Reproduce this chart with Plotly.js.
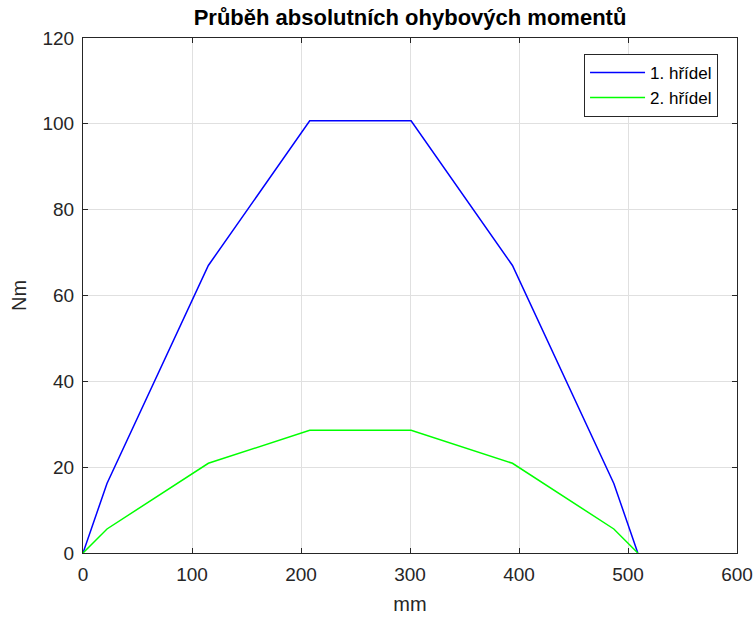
<!DOCTYPE html>
<html>
<head>
<meta charset="utf-8">
<script src="https://cdn.plot.ly/plotly-3.0.1.min.js"></script>
<style>html,body{margin:0;padding:0;background:#fff;}#chart{width:754px;height:619px;}</style>
</head>
<body>
<div id="chart"></div>
<script>
const xPos = [0, 22, 115, 208, 301, 394, 487, 509];
const shaft1 = [0, 16.2, 67.0, 100.7, 100.7, 67.0, 16.2, 0];
const shaft2 = [0, 5.6, 20.9, 28.6, 28.6, 20.9, 5.6, 0];
const seriesNames = ['1. hřídel', '2. hřídel'];
const titleText = 'Průběh absolutních ohybových momentů';
const xLabel = 'mm';
const yLabel = 'Nm';

const font = 'Liberation Sans, Arial, Helvetica, sans-serif';
const traces = [
  {x: xPos, y: shaft1, name: seriesNames[0], mode: 'lines', line: {color: '#0000ff', width: 1.5}},
  {x: xPos, y: shaft2, name: seriesNames[1], mode: 'lines', line: {color: '#00ff00', width: 1.5}}
];
const axisCommon = {
  showline: true, mirror: 'ticks', linecolor: '#262626', linewidth: 1,
  ticks: 'inside', ticklen: 5, tickcolor: '#262626',
  showgrid: true, gridcolor: '#e0e0e0', gridwidth: 1,
  zeroline: false,
  tickfont: {family: font, size: 19, color: '#262626'}
};
const layout = {
  width: 754, height: 619,
  margin: {l: 83, r: 17, t: 38, b: 66},
  paper_bgcolor: '#ffffff', plot_bgcolor: '#ffffff',
  title: {text: '<b>' + titleText + '</b>', x: 0.5, xref: 'paper', xanchor: 'center', y: 0.972, yref: 'container', yanchor: 'middle',
    font: {family: font, size: 22, color: '#000000'}},
  xaxis: Object.assign({}, axisCommon, {range: [0, 600], dtick: 100, ticklabelstandoff: 4,
    title: {text: xLabel, font: {family: font, size: 20, color: '#262626'}, standoff: 13}}),
  yaxis: Object.assign({}, axisCommon, {range: [0, 120], dtick: 20, ticklabelstandoff: 4,
    title: {text: yLabel, font: {family: font, size: 20, color: '#262626'}, standoff: 10}}),
  legend: {x: 0.971, xanchor: 'right', y: 0.969, yanchor: 'top',
    bgcolor: '#ffffff', bordercolor: '#262626', borderwidth: 1, itemwidth: 55,
    font: {family: font, size: 17, color: '#000000'}, tracegroupgap: 0},
  showlegend: true
};
Plotly.newPlot('chart', traces, layout, {displayModeBar: false, staticPlot: true});
</script>
</body>
</html>
